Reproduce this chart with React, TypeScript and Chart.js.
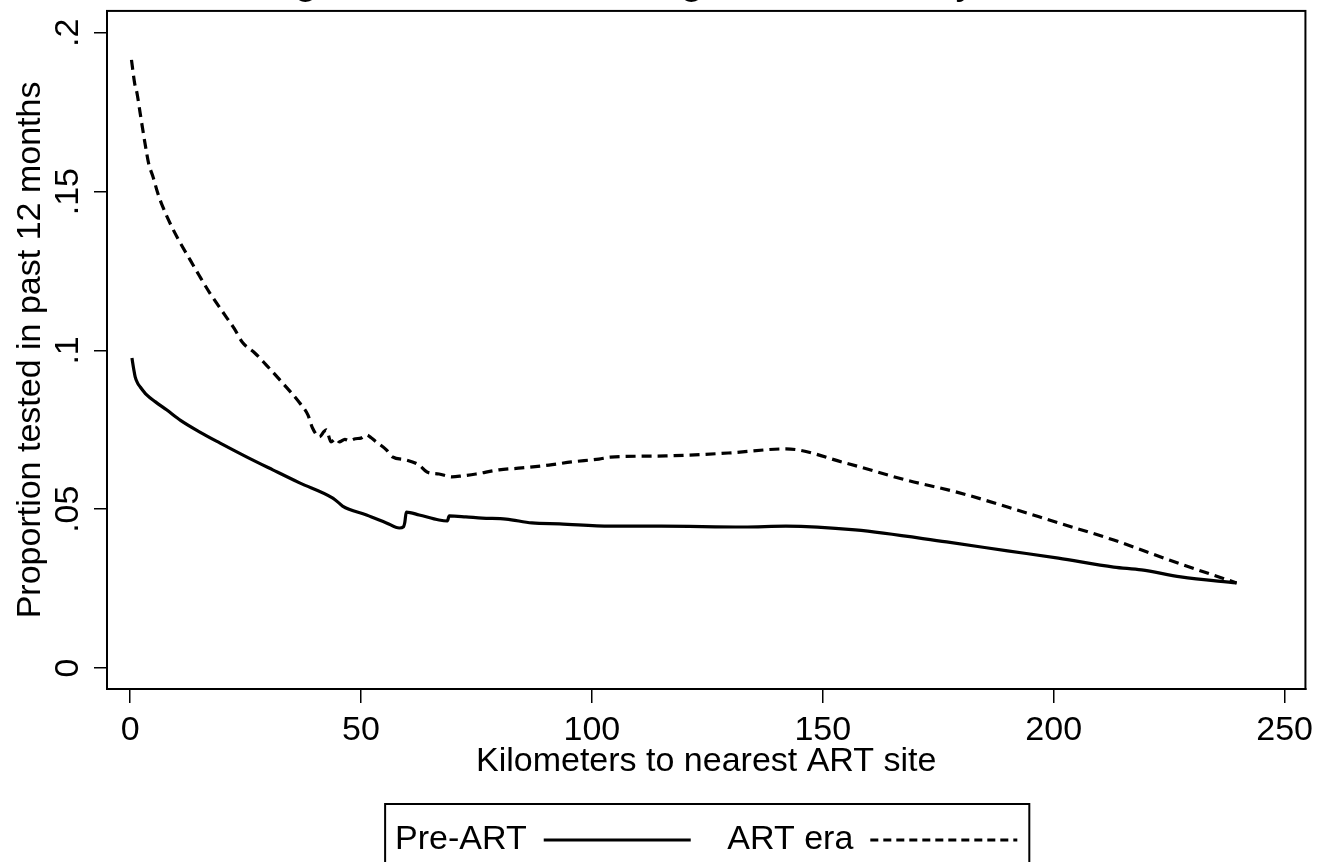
import React, { useEffect, useRef } from "react";
import { Chart, registerables } from "chart.js";

Chart.register(...registerables);

// ---- Data ----
const titleText = "HIV testing and distance among rural adults by ART rollout";
const seriesLabels = ["Pre-ART", "ART era"];

const preArtKm = [0.4, 0.8, 1.1, 1.6, 2.2, 3.6, 5.5, 7.9, 11, 15.1, 19.4, 25.2, 30.9, 36.7, 43.9, 45.2, 46, 51.2, 55.5, 58.3, 59.2, 59.5, 59.8, 62.6, 66.9, 68.7, 69.1, 72.7, 76.2, 81.4, 87, 93, 104, 115, 132.8, 142, 157, 176.8, 190, 201, 213, 219, 227.5, 239.6];
const preArtProp = [0.0976, 0.094, 0.0917, 0.0898, 0.0885, 0.086, 0.0838, 0.0813, 0.0779, 0.0743, 0.0709, 0.0665, 0.0624, 0.0583, 0.0535, 0.052, 0.051, 0.0482, 0.0457, 0.0441, 0.0445, 0.046, 0.0491, 0.0482, 0.0466, 0.0463, 0.0479, 0.0476, 0.0472, 0.0469, 0.0457, 0.0454, 0.0447, 0.0447, 0.0444, 0.0447, 0.0435, 0.0397, 0.0369, 0.0346, 0.0318, 0.0309, 0.0287, 0.0268];

const artEraKm = [0.3, 1.0, 1.5, 2.2, 3.2, 4.0, 5.0, 6.0, 7.0, 9.0, 11.0, 13.0, 15.0, 17.3, 20.5, 22.5, 24.4, 27.0, 29.5, 33.0, 36.7, 38.5, 39.5, 41.0, 42.0, 42.5, 43.5, 44.5, 45.3, 46.5, 47.5, 48.8, 50.0, 51.2, 52.2, 53.3, 55.5, 56.8, 59.8, 62.6, 64.3, 66.9, 69.7, 71.9, 74.9, 79.9, 84.8, 90.7, 95.6, 101.5, 104, 116, 129.5, 142, 154.8, 168, 179, 190, 201, 213, 225, 239.6];
const artEraProp = [0.1915, 0.184, 0.181, 0.1745, 0.1655, 0.159, 0.1545, 0.1495, 0.1455, 0.139, 0.1335, 0.1285, 0.1235, 0.118, 0.1112, 0.107, 0.1024, 0.0992, 0.0954, 0.0898, 0.0835, 0.0797, 0.0756, 0.0728, 0.0745, 0.075, 0.0712, 0.0722, 0.0712, 0.072, 0.0716, 0.0722, 0.0724, 0.0734, 0.0725, 0.0712, 0.0687, 0.0665, 0.0655, 0.0639, 0.0617, 0.0611, 0.0602, 0.0605, 0.0611, 0.0624, 0.063, 0.0639, 0.0649, 0.0658, 0.0664, 0.0668, 0.0677, 0.069, 0.0646, 0.0592, 0.0554, 0.0507, 0.0457, 0.0403, 0.034, 0.0268];

const xTickValues = [0, 50, 100, 150, 200, 250];
const xTickLabels = ["0", "50", "100", "150", "200", "250"];
const yTickValues = [0, 0.05, 0.1, 0.15, 0.2];
const yTickLabels = ["0", ".05", ".1", ".15", ".2"];

const xAxisTitle = "Kilometers to nearest ART site";
const yAxisTitle = "Proportion tested in past 12 months";

const FONT = "'Liberation Sans', Arial, Helvetica, sans-serif";
const TOP_CUT = 43;
const CANVAS_W = 1320;
const CANVAS_H = 910;

const framePlugin = {
  id: "stataFrames",
  afterDraw(chart: any) {
    const { ctx, chartArea } = chart;
    ctx.save();
    ctx.strokeStyle = "#000";
    ctx.lineWidth = 2;
    ctx.setLineDash([]);
    ctx.strokeRect(chartArea.left, chartArea.top, chartArea.right - chartArea.left, chartArea.bottom - chartArea.top);
    const lg = chart.legend;
    if (lg && lg.legendHitBoxes && lg.legendHitBoxes.length) {
      const hb = lg.legendHitBoxes;
      let l = Infinity, r = -Infinity, mid = 0;
      hb.forEach((h: any) => {
        l = Math.min(l, h.left);
        r = Math.max(r, h.left + h.width);
        mid = h.top + h.height / 2;
      });
      ctx.strokeRect(l - 10, mid - 36, r - l + 22, 72);
    }
    ctx.restore();
  },
};

export default function App() {
  const ref = useRef<HTMLCanvasElement | null>(null);

  useEffect(() => {
    if (!ref.current) return;
    Chart.defaults.font.family = FONT;
    Chart.defaults.color = "#000";
    const defaultLabels = (Chart as any).defaults.plugins.legend.labels.generateLabels;

    const chart = new Chart(ref.current, {
      type: "line",
      data: {
        datasets: [
          {
            label: seriesLabels[0],
            data: preArtKm.map((x, i) => ({ x, y: preArtProp[i] })),
            borderColor: "#000",
            backgroundColor: "#000",
            borderWidth: 3.2,
            pointRadius: 0,
            fill: false,
            cubicInterpolationMode: "monotone",
          },
          {
            label: seriesLabels[1],
            data: artEraKm.map((x, i) => ({ x, y: artEraProp[i] })),
            borderColor: "#000",
            backgroundColor: "#000",
            borderWidth: 3.2,
            borderDash: [10, 6],
            pointRadius: 0,
            fill: false,
            cubicInterpolationMode: "monotone",
          },
        ],
      },
      options: {
        animation: false,
        responsive: false,
        maintainAspectRatio: false,
        layout: { padding: { left: 0, right: 11, top: 0, bottom: 0 } },
        plugins: {
          title: {
            display: true,
            text: titleText,
            color: "#000",
            font: { size: 41.6, weight: "normal", family: FONT },
            padding: { top: 0, bottom: 4 },
          },
          legend: {
            display: true,
            position: "bottom",
            fullSize: false,
            rtl: true,
            textDirection: "ltr",
            reverse: true,
            labels: {
              color: "#000",
              font: { size: 34, family: FONT },
              usePointStyle: true,
              pointStyle: "line",
              pointStyleWidth: 147,
              padding: 36.6,
              generateLabels: (ch: any) =>
                defaultLabels(ch).map((item: any) => {
                  const ds = ch.data.datasets[item.datasetIndex];
                  return {
                    ...item,
                    lineDash: ds.borderDash ? [8, 5] : [],
                    lineWidth: 3,
                    strokeStyle: "#000",
                  };
                }),
            },
          },
          tooltip: { enabled: false },
        },
        scales: {
          x: {
            type: "linear",
            min: -5,
            max: 254.5,
            afterBuildTicks: (s: any) => {
              s.ticks = xTickValues.map((v) => ({ value: v }));
            },
            afterFit: (s: any) => {
              s.height = 97.4;
            },
            grid: { display: true, drawOnChartArea: false, drawTicks: true, tickLength: 14, color: "#000", lineWidth: 1.5 },
            border: { display: true, color: "#000", width: 2 },
            ticks: {
              autoSkip: false,
              minRotation: 0,
              maxRotation: 0,
              padding: 6.8,
              color: "#000",
              font: { size: 34, family: FONT },
              callback: (_v: any, i: number) => xTickLabels[i],
            },
            title: {
              display: true,
              text: xAxisTitle,
              color: "#000",
              font: { size: 34, family: FONT },
              padding: { top: 0, bottom: 4 },
            },
          },
          y: {
            type: "linear",
            min: -0.0066,
            max: 0.2069,
            afterBuildTicks: (s: any) => {
              s.ticks = yTickValues.map((v) => ({ value: v }));
            },
            afterFit: (s: any) => {
              s.width = 107;
            },
            grid: { display: true, drawOnChartArea: false, drawTicks: true, tickLength: 13, color: "#000", lineWidth: 1.5 },
            border: { display: true, color: "#000", width: 2 },
            ticks: {
              autoSkip: false,
              minRotation: 90,
              maxRotation: 90,
              crossAlign: "center",
              padding: 2,
              color: "#000",
              font: { size: 34, family: FONT },
              callback: (_v: any, i: number) => yTickLabels[i],
            },
            title: {
              display: true,
              text: yAxisTitle,
              color: "#000",
              font: { size: 34, family: FONT },
              padding: { top: 10.6, bottom: 0 },
            },
          },
        },
      },
      plugins: [framePlugin],
    } as any);

    return () => chart.destroy();
  }, []);

  return (
    <div style={{ position: "absolute", left: 0, top: -TOP_CUT, width: CANVAS_W, height: CANVAS_H, background: "#fff" }}>
      <canvas ref={ref} width={CANVAS_W} height={CANVAS_H} style={{ display: "block" }} />
    </div>
  );
}
